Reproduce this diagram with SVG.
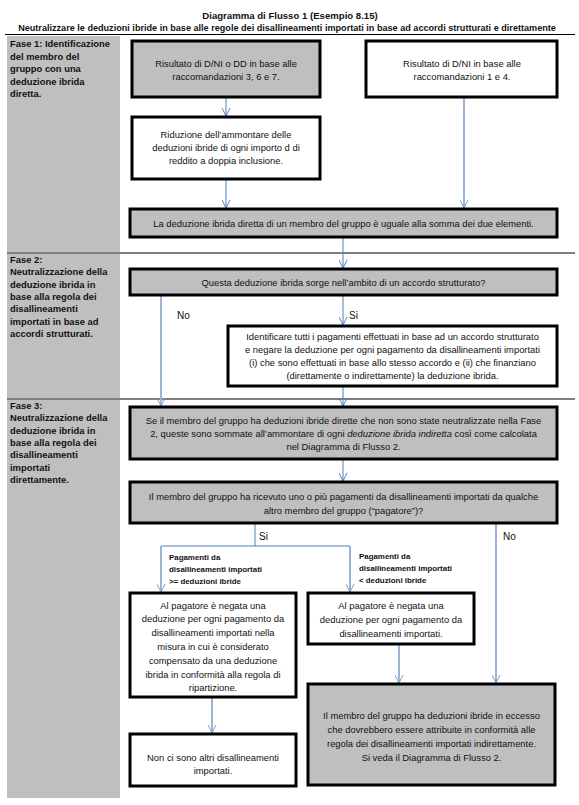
<svg xmlns="http://www.w3.org/2000/svg" width="579" height="805" viewBox="0 0 579 805">
<defs>
<style>
.bg{fill:#ffffff}
.col{fill:#bfbfbf}
.sep{stroke:#000;stroke-width:1.2}
.g{fill:#bfbfbf;stroke:#000;stroke-width:3}
.w{fill:#ffffff;stroke:#000;stroke-width:3}
.t{font-family:"Liberation Sans",Arial,sans-serif;font-size:9.4px;fill:#111;text-anchor:middle}
.ph{font-family:"Liberation Sans",Arial,sans-serif;font-size:9.4px;font-weight:bold;fill:#111}
.hd{font-family:"Liberation Sans",Arial,sans-serif;font-size:9.6px;font-weight:bold;fill:#111;text-anchor:middle}
.sub{font-family:"Liberation Sans",Arial,sans-serif;font-size:9.1px;font-weight:bold;fill:#111;text-anchor:middle}
.lb{font-family:"Liberation Sans",Arial,sans-serif;font-size:10px;fill:#111}
.bl{font-family:"Liberation Sans",Arial,sans-serif;font-size:7.9px;font-weight:bold;fill:#111}
.c1{stroke:#4f7fbf;stroke-width:1;fill:none}
.c2{stroke:#9ab5d8;stroke-width:2;fill:none}
</style>
<marker id="a1" viewBox="0 0 10 10" refX="10" refY="5" markerWidth="9" markerHeight="9" markerUnits="userSpaceOnUse" orient="auto">
<path d="M1,0.5 L10,5 L1,9.5" fill="none" stroke="#4f7fbf" stroke-width="1.1"/>
</marker>
<marker id="a2" viewBox="0 0 10 10" refX="10" refY="5" markerWidth="9" markerHeight="9" markerUnits="userSpaceOnUse" orient="auto">
<path d="M1,0.5 L10,5 L1,9.5" fill="none" stroke="#7d9dc9" stroke-width="1.1"/>
</marker>
</defs>
<rect class="bg" x="0" y="0" width="579" height="805"/>
<g id="header">
<text class="hd" x="290" y="19">Diagramma di Flusso 1 (Esempio 8.15)</text>
<text class="sub" x="287" y="30.5">Neutralizzare le deduzioni ibride in base alle regole dei disallineamenti importati in base ad accordi strutturati e direttamente</text>
<line class="sep" x1="5" y1="34.5" x2="575" y2="34.5"/>
</g>
<g id="phases">
<rect class="col" x="7" y="36" width="113" height="216"/>
<rect class="col" x="7" y="254" width="113" height="144"/>
<rect class="col" x="7" y="400" width="113" height="398"/>
<line class="sep" x1="7" y1="253" x2="575" y2="253"/>
<line class="sep" x1="7" y1="399" x2="575" y2="399"/>
<text class="ph" x="10" y="47">Fase 1: Identificazione</text>
<text class="ph" x="10" y="59.5">del membro del</text>
<text class="ph" x="10" y="72">gruppo con una</text>
<text class="ph" x="10" y="84.5">deduzione ibrida</text>
<text class="ph" x="10" y="97">diretta.</text>
<text class="ph" x="10" y="263">Fase 2:</text>
<text class="ph" x="10" y="275.3">Neutralizzazione della</text>
<text class="ph" x="10" y="287.6">deduzione ibrida in</text>
<text class="ph" x="10" y="299.9">base alla regola dei</text>
<text class="ph" x="10" y="312.2">disallineamenti</text>
<text class="ph" x="10" y="324.5">importati in base ad</text>
<text class="ph" x="10" y="336.8">accordi strutturati.</text>
<text class="ph" x="10" y="409">Fase 3:</text>
<text class="ph" x="10" y="421.3">Neutralizzazione della</text>
<text class="ph" x="10" y="433.6">deduzione ibrida in</text>
<text class="ph" x="10" y="445.9">base alla regola dei</text>
<text class="ph" x="10" y="458.2">disallineamenti</text>
<text class="ph" x="10" y="470.5">importati</text>
<text class="ph" x="10" y="482.8">direttamente.</text>
</g>
<g id="connectors">
<line class="c1" x1="226" y1="97" x2="226" y2="116" marker-end="url(#a1)"/>
<line class="c1" x1="226" y1="179" x2="226" y2="208" marker-end="url(#a1)"/>
<line class="c2" x1="464" y1="97" x2="464" y2="208" marker-end="url(#a2)"/>
<line class="c1" x1="343" y1="237" x2="343" y2="268" marker-end="url(#a1)"/>
<line class="c1" x1="343" y1="295" x2="343" y2="325" marker-end="url(#a1)"/>
<line class="c2" x1="161" y1="295" x2="161" y2="406" marker-end="url(#a2)"/>
<line class="c1" x1="343" y1="386" x2="343" y2="406" marker-end="url(#a1)"/>
<line class="c1" x1="343" y1="459" x2="343" y2="481" marker-end="url(#a1)"/>
<line class="c1" x1="255" y1="523" x2="255" y2="546"/>
<line class="c1" x1="161" y1="546" x2="350" y2="546"/>
<line class="c2" x1="161" y1="546" x2="161" y2="592" marker-end="url(#a2)"/>
<line class="c2" x1="350" y1="546" x2="350" y2="592" marker-end="url(#a2)"/>
<line class="c2" x1="496" y1="523" x2="496" y2="683" marker-end="url(#a2)"/>
<line class="c2" x1="399" y1="644" x2="399" y2="683" marker-end="url(#a2)"/>
<line class="c2" x1="212" y1="697" x2="212" y2="733" marker-end="url(#a2)"/>
<text class="lb" x="177" y="319">No</text>
<text class="lb" x="349" y="319">Si</text>
<text class="lb" x="259" y="540">Si</text>
<text class="lb" x="503" y="540">No</text>
<text class="bl" x="169" y="560">Pagamenti da</text>
<text class="bl" x="169" y="572">disallineamenti importati</text>
<text class="bl" x="169" y="584">&gt;= deduzioni ibride</text>
<text class="bl" x="359" y="559">Pagamenti da</text>
<text class="bl" x="359" y="571">disallineamenti importati</text>
<text class="bl" x="359" y="583">&lt; deduzioni ibride</text>
</g>
<g id="n1">
<rect class="g" x="132" y="41" width="188" height="56"/>
<text class="t" x="226" y="67">Risultato di D/NI o DD in base alle</text>
<text class="t" x="226" y="80">raccomandazioni 3, 6 e 7.</text>
</g>
<g id="n2">
<rect class="w" x="366" y="41" width="191" height="56"/>
<text class="t" x="462" y="67">Risultato di D/NI in base alle</text>
<text class="t" x="462" y="80">raccomandazioni 1 e 4.</text>
</g>
<g id="n3">
<rect class="w" x="132" y="117" width="188" height="62"/>
<text class="t" x="226" y="137.5">Riduzione dell’ammontare delle</text>
<text class="t" x="226" y="150.5">deduzioni ibride di ogni importo d di</text>
<text class="t" x="226" y="163.5">reddito a doppia inclusione.</text>
</g>
<g id="n4">
<rect class="g" x="130" y="209" width="427" height="28"/>
<text class="t" x="343.5" y="226.5">La deduzione ibrida diretta di un membro del gruppo è uguale alla somma dei due elementi.</text>
</g>
<g id="n5">
<rect class="g" x="130" y="269" width="427" height="26"/>
<text class="t" x="343.5" y="285.5">Questa deduzione ibrida sorge nell’ambito di un accordo strutturato?</text>
</g>
<g id="n6">
<rect class="w" x="228" y="326" width="329" height="60"/>
<text class="t" x="392.5" y="340">Identificare tutti i pagamenti effettuati in base ad un accordo strutturato</text>
<text class="t" x="392.5" y="353">e negare la deduzione per ogni pagamento da disallineamenti importati</text>
<text class="t" x="392.5" y="366">(i) che sono effettuati in base allo stesso accordo e (ii) che finanziano</text>
<text class="t" x="392.5" y="379">(direttamente o indirettamente) la deduzione ibrida.</text>
</g>
<g id="n7">
<rect class="g" x="130" y="407" width="427" height="52"/>
<text class="t" x="343.5" y="423.5">Se il membro del gruppo ha deduzioni ibride dirette che non sono state neutralizzate nella Fase</text>
<text class="t" x="343.5" y="436.5">2, queste sono sommate all’ammontare di ogni <tspan font-style="italic">deduzione ibrida indiretta</tspan> così come calcolata</text>
<text class="t" x="343.5" y="450">nel Diagramma di Flusso 2.</text>
</g>
<g id="n8">
<rect class="g" x="130" y="482" width="427" height="41"/>
<text class="t" x="343.5" y="500">Il membro del gruppo ha ricevuto uno o più pagamenti da disallineamenti importati da qualche</text>
<text class="t" x="343.5" y="514">altro membro del gruppo (“pagatore”)?</text>
</g>
<g id="n9">
<rect class="w" x="130" y="593" width="166" height="104"/>
<text class="t" x="213" y="608.5">Al pagatore è negata una</text>
<text class="t" x="213" y="622.3">deduzione per ogni pagamento da</text>
<text class="t" x="213" y="636.1">disallineamenti importati nella</text>
<text class="t" x="213" y="649.9">misura in cui è considerato</text>
<text class="t" x="213" y="663.7">compensato da una deduzione</text>
<text class="t" x="213" y="677.5">ibrida in conformità alla regola di</text>
<text class="t" x="213" y="691.3">ripartizione.</text>
</g>
<g id="n10">
<rect class="w" x="308" y="593" width="166" height="51"/>
<text class="t" x="391" y="608.5">Al pagatore è negata una</text>
<text class="t" x="391" y="622.5">deduzione per ogni pagamento da</text>
<text class="t" x="391" y="636.5">disallineamenti importati.</text>
</g>
<g id="n11">
<rect class="w" x="130" y="734" width="166" height="52"/>
<text class="t" x="213" y="761">Non ci sono altri disallineamenti</text>
<text class="t" x="213" y="774">importati.</text>
</g>
<g id="n12">
<rect class="g" x="308" y="684" width="247" height="101"/>
<text class="t" x="431.5" y="719">Il membro del gruppo ha deduzioni ibride in eccesso</text>
<text class="t" x="431.5" y="733">che dovrebbero essere attribuite in conformità alle</text>
<text class="t" x="431.5" y="747">regola dei disallineamenti importati indirettamente.</text>
<text class="t" x="431.5" y="761">Si veda il Diagramma di Flusso 2.</text>
</g>
</svg>
